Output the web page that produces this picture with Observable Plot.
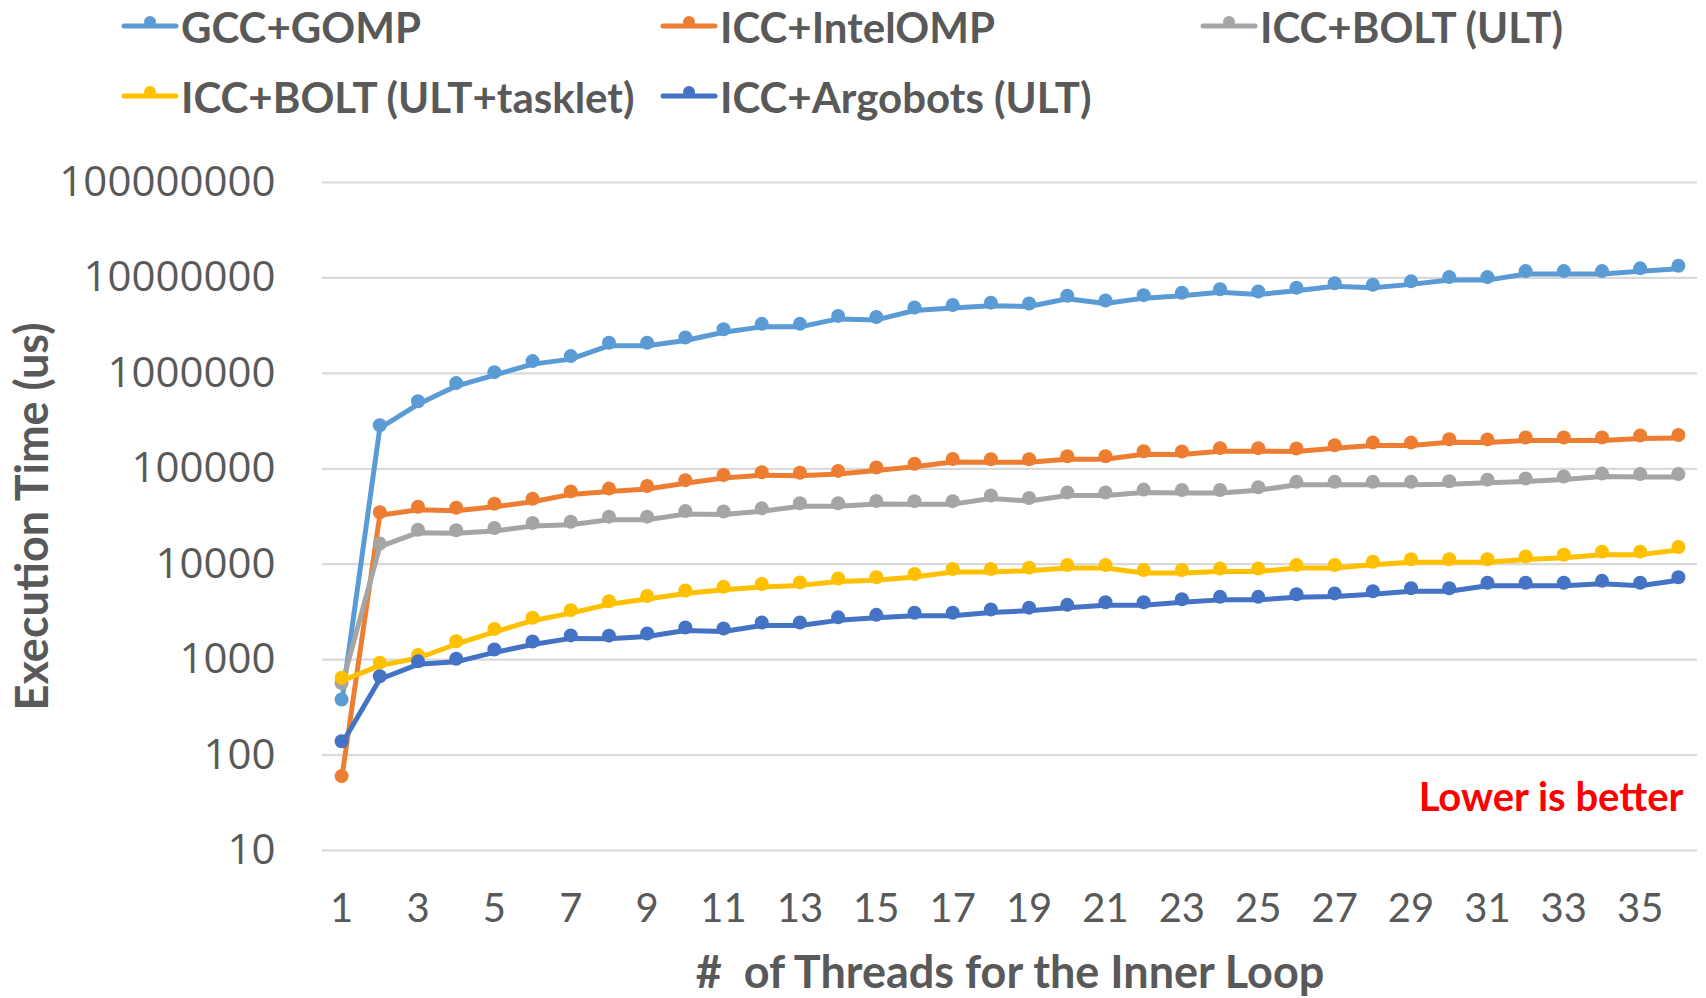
<!DOCTYPE html>
<html>
<head>
<meta charset="utf-8">
<script src="https://cdn.jsdelivr.net/npm/d3@7"></script>
<script src="https://cdn.jsdelivr.net/npm/@observablehq/plot@0.6"></script>
<style>
  html, body { margin: 0; padding: 0; background: #fff; }
  #wrap { position: relative; width: 1706px; height: 998px; overflow: hidden; }
  #wrap svg { position: absolute; left: 0; top: 0; }
</style>
</head>
<body>
<div id="wrap"></div>
<script>
// ---- data ----
const threads = [1,2,3,4,5,6,7,8,9,10,11,12,13,14,15,16,17,18,19,20,21,22,23,24,25,26,27,28,29,30,31,32,33,34,35,36];

const gccGomp = [355, 266000, 474000, 735000, 958000, 1250000, 1410000, 1950000, 1950000, 2210000, 2700000, 3070000,
  3070000, 3720000, 3630000, 4560000, 4840000, 5120000, 5020000, 6050000, 5390000, 6140000, 6510000, 7070000,
  6700000, 7350000, 8180000, 7900000, 8560000, 9490000, 9490000, 10970000, 10970000, 10970000, 11720000, 12460000];

const iccIntelOmp = [56, 32600, 37200, 36300, 40000, 45100, 53900, 57700, 61400, 70700, 80000, 85600,
  84600, 88400, 95800, 105000, 118000, 117000, 117000, 126000, 126000, 142000, 141000, 153000,
  153000, 152000, 164000, 175000, 175000, 190000, 189000, 198000, 198000, 198000, 208000, 210000];

const iccBoltUlt = [530, 15300, 21400, 21100, 22300, 25100, 25900, 29300, 29300, 33500, 33200, 35800,
  40500, 40500, 42800, 42600, 42600, 48800, 46000, 52500, 52500, 56300, 55800, 55800,
  59500, 67900, 67900, 67900, 67900, 68800, 71600, 73500, 77200, 82800, 81800, 81800];

const iccBoltTasklet = [600, 865, 1040, 1450, 1950, 2560, 3070, 3810, 4320, 4930, 5390, 5770,
  6000, 6600, 6790, 7350, 8280, 8280, 8560, 9110, 9110, 8090, 8090, 8370,
  8370, 9110, 9110, 9860, 10500, 10500, 10500, 11200, 11700, 12600, 12600, 14100];

const iccArgobots = [130, 623, 893, 949, 1190, 1440, 1670, 1660, 1750, 2020, 1970, 2280,
  2280, 2580, 2740, 2880, 2880, 3120, 3260, 3490, 3720, 3720, 4000, 4230,
  4230, 4510, 4600, 4840, 5210, 5210, 5950, 5950, 5950, 6230, 5950, 6790];

const seriesNames = ["GCC+GOMP", "ICC+IntelOMP", "ICC+BOLT (ULT)", "ICC+BOLT (ULT+tasklet)", "ICC+Argobots (ULT)"];
const seriesColors = ["#5B9BD5", "#ED7D31", "#A5A5A5", "#FFC000", "#4472C4"];
const seriesValues = [gccGomp, iccIntelOmp, iccBoltUlt, iccBoltTasklet, iccArgobots];

const yTicks = [10, 100, 1000, 10000, 100000, 1000000, 10000000, 100000000];
const xTicks = [1,3,5,7,9,11,13,15,17,19,21,23,25,27,29,31,33,35];

const yTitle = "Execution Time (us)";
const xTitle = "#\u00a0 of Threads for the Inner Loop";
const note = "Lower is better";

// ---- build ----
const rows = seriesNames.map((name, i) =>
  threads.map((t, j) => ({x: t, y: seriesValues[i][j], s: name})));

const textColor = "#595959";
const seriesMarks = rows.flatMap((r, i) => [
  Plot.line(r, {x: "x", y: "y", stroke: seriesColors[i], strokeWidth: 5, strokeLinejoin: "round", strokeLinecap: "round"}),
  Plot.dot(r, {x: "x", y: "y", r: 7, fill: seriesColors[i], stroke: "none", dy: -3})
]);

const chart = Plot.plot({
  width: 1706,
  height: 998,
  marginLeft: 322,
  marginRight: 9,
  marginTop: 182,
  marginBottom: 148,
  style: {fontFamily: "Lato, sans-serif", background: "transparent", overflow: "visible"},
  x: {type: "linear", domain: [0.5, 36.5]},
  y: {type: "log", domain: [10, 1e8]},
  marks: [
    Plot.gridY(yTicks, {stroke: "#d9d9d9", strokeOpacity: 1, strokeWidth: 2.2}),
    Plot.axisY(yTicks, {tickSize: 0, tickPadding: 47, fontSize: 42, fontFamily: "Open Sans", color: textColor, tickFormat: d => String(d), label: null}),
    Plot.axisX(xTicks, {tickSize: 0, tickPadding: 43, fontSize: 40, fontFamily: "Lato", color: textColor, tickFormat: d => String(d), label: null}),
    ...seriesMarks,
    Plot.text([yTitle], {frameAnchor: "left", textAnchor: "middle", rotate: -90, dx: -289, lineAnchor: "middle", fontSize: 45, fontWeight: "bold", fill: textColor}),
    Plot.text([xTitle], {frameAnchor: "bottom", textAnchor: "middle", dy: 123, lineAnchor: "middle", fontSize: 45, fontWeight: "bold", fill: textColor}),
    Plot.text([note], {frameAnchor: "bottom-right", textAnchor: "end", lineAnchor: "middle", dx: -14, dy: -52, fontSize: 40, fontWeight: "bold", fill: "#FF0000"})
  ]
});

const wrap = document.getElementById("wrap");
wrap.appendChild(chart);

// ---- legend (above the plot area) ----
const legendPos = [[122, 26], [661, 26], [1201, 26], [122, 96], [661, 96]];
const legend = d3.create("svg").attr("width", 1706).attr("height", 140);
seriesNames.forEach((name, i) => {
  const [lx, ly] = legendPos[i];
  const g = legend.append("g").attr("transform", `translate(${lx},${ly})`);
  g.append("line").attr("x1", 2).attr("x2", 54).attr("y1", 0).attr("y2", 0)
    .attr("stroke", seriesColors[i]).attr("stroke-width", 5).attr("stroke-linecap", "round");
  g.append("circle").attr("cx", 28).attr("cy", -4).attr("r", 6).attr("fill", seriesColors[i]);
  g.append("text").attr("x", 59).attr("y", 17)
    .attr("font-family", "Lato, sans-serif").attr("font-weight", "bold").attr("font-size", 42)
    .attr("fill", textColor).text(name);
});
wrap.appendChild(legend.node());
</script>
</body>
</html>
